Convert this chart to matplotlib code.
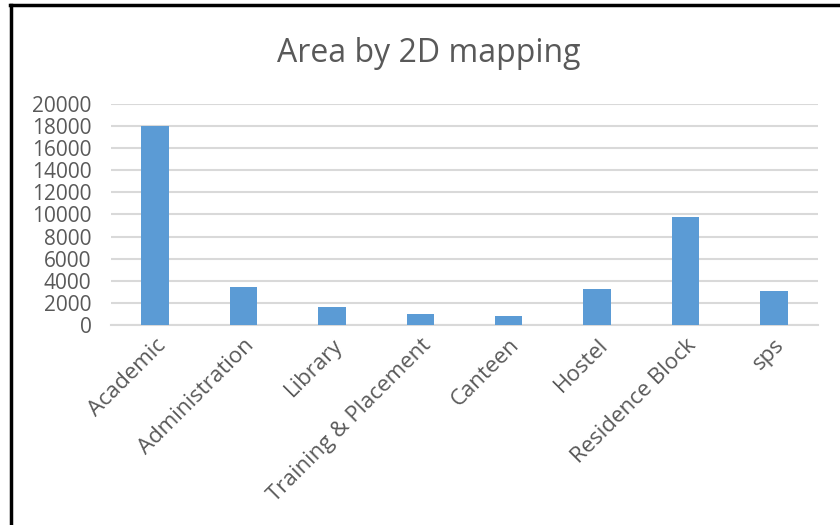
import matplotlib
matplotlib.use('Agg')
import matplotlib.pyplot as plt
from matplotlib.lines import Line2D
import numpy as np

# building areas from the 2D mapping survey
categories = ['Academic', 'Administration', 'Library', 'Training & Placement',
              'Canteen', 'Hostel', 'Residence Block', 'sps']
areas = [18000, 3450, 1650, 1000, 800, 3300, 9800, 3100]
y_ticks = list(range(0, 20001, 2000))

BAR_COLOR = '#5B9BD5'
TEXT_COLOR = '#595959'
GRID_COLOR = '#D9D9D9'

plt.rcParams['font.family'] = ['Open Sans', 'DejaVu Sans']

fig = plt.figure(figsize=(8.4, 5.25), dpi=100)
fig.patch.set_facecolor('white')
ax = fig.add_axes([0.132, 0.381, 0.842, 0.421])

x = np.arange(len(categories))
ax.bar(x, areas, width=0.31, color=BAR_COLOR, zorder=3)

ax.set_xlim(-0.5, len(categories) - 0.5)
ax.set_ylim(0, 20000)
ax.set_yticks(y_ticks)
ax.set_yticklabels([str(t) for t in y_ticks], fontsize=15, color=TEXT_COLOR)
ax.yaxis.grid(True, color=GRID_COLOR, linewidth=1.5, zorder=0)
ax.tick_params(axis='y', length=0, pad=14)
ax.tick_params(axis='x', length=0, pad=7)

ax.set_xticks(x)
ax.set_xticklabels(categories, rotation=45, ha='right', va='top',
                   rotation_mode='anchor', fontsize=16, color=TEXT_COLOR)

for side in ['top', 'right', 'left']:
    ax.spines[side].set_visible(False)
ax.spines['bottom'].set_color(GRID_COLOR)
ax.spines['bottom'].set_linewidth(1.5)

fig.text(0.51, 0.898, 'Area by 2D mapping', ha='center', va='center',
         fontsize=23, color=TEXT_COLOR)

# chart frame, only the left and top edges show
fig.add_artist(Line2D([0.013, 0.013], [0, 0.991], transform=fig.transFigure,
                      color='black', linewidth=2.5))
fig.add_artist(Line2D([0.012, 1.0], [0.991, 0.991], transform=fig.transFigure,
                      color='black', linewidth=2.5))

fig.savefig('out.png', dpi=100, facecolor='white')
